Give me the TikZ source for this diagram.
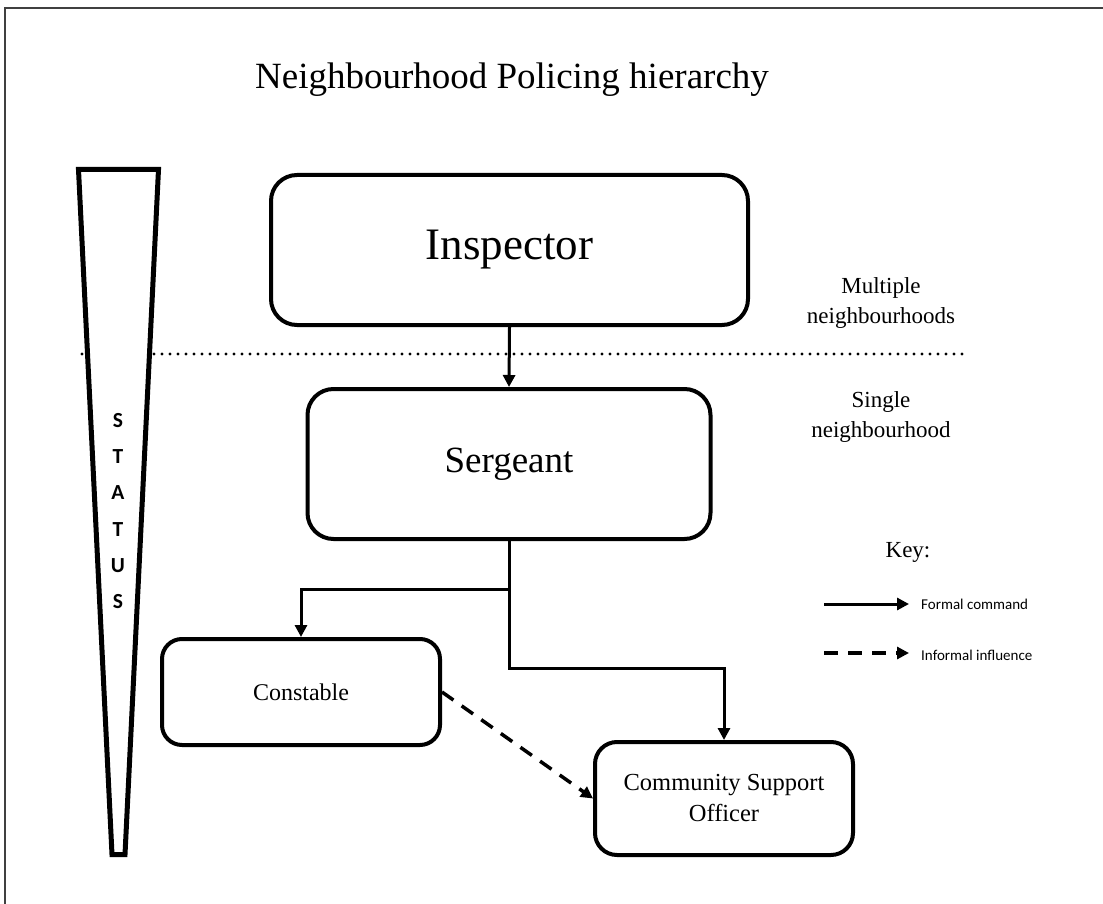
\documentclass[tikz,border=0pt]{standalone}
\usepackage{fontspec}
\setmainfont{Liberation Serif}
\newfontfamily\keyfont{Carlito}
\usetikzlibrary{arrows.meta}
\tikzset{
  box/.style={draw, line width=4pt, fill=white, inner sep=0pt, align=center},
  arr/.style={line width=3pt, -{Triangle[length=12pt,width=12pt]}},
  darr/.style={line width=3.5pt, dash pattern=on 14pt off 10pt, -{Triangle[length=12pt,width=12pt]}},
  lbl/.style={inner sep=0pt, align=center, font=\fontsize{23}{30}\selectfont},
  legend/.style={inner sep=0pt, anchor=west, font=\keyfont\fontsize{15}{18}\selectfont},
}
\begin{document}
\begin{tikzpicture}[x=1pt,y=-1pt]
\useasboundingbox (0,0) rectangle (1103,904);
% frame
\draw[line width=1.8pt, black!75] (5,904) -- (5,8) -- (1103,8);
% title
\node[inner sep=0pt, anchor=base, font=\fontsize{37}{44}\selectfont] (title) at (512,89) {Neighbourhood Policing hierarchy};
% dotted divider
\coordinate (d1) at (82,354);
\coordinate (d2) at (963,354);
\draw[line width=3.4pt, line cap=round, dash pattern=on 0pt off 8pt] (d1) -- (d2);
% status wedge
\draw[line width=5pt, fill=white, line join=miter] (78.5,169.5) -- (158.5,169.5) -- (125,854.5) -- (112,854.5) -- cycle;
\node[inner sep=0pt, align=center, font=\keyfont\bfseries\fontsize{21.5}{36.2}\selectfont] (status) at (118,511) {S\\T\\A\\T\\U\\S};
% boxes
\node[box, rounded corners=26pt, minimum width=477pt, minimum height=150pt, font=\fontsize{45}{52}\selectfont] (insp) at (509.5,250) {\raisebox{-3pt}{Inspector}};
\node[box, rounded corners=26pt, minimum width=403pt, minimum height=150pt, font=\fontsize{37}{44}\selectfont] (serg) at (509,464) {\raisebox{-3pt}{Sergeant}};
\node[box, rounded corners=20pt, minimum width=278pt, minimum height=106pt, font=\fontsize{24}{31}\selectfont] (const) at (301,692) {Constable};
\node[box, rounded corners=22pt, minimum width=258pt, minimum height=113pt, font=\fontsize{24.5}{31}\selectfont] (cso) at (724,798.5) {Community Support\\Officer};
% side labels
\node[lbl] (multi) at (881,303) {Multiple\\neighbourhoods};
\node[lbl] (single) at (881,417) {Single\\neighbourhood};
% connectors
\draw[arr] (insp.south) -- (serg.north);
\draw[arr] (serg.south) -- ++(0,48) -| (const.north);
\draw[arr] (serg.south) -- ++(0,127) -| (cso.north);
\draw[darr] (const.east) -- (cso.west);
% key
\node[inner sep=0pt, anchor=base, font=\fontsize{23}{30}\selectfont] (key) at (908,557) {Key:};
\coordinate (f1) at (824,604);
\coordinate (f2) at (909,604);
\draw[arr] (f1) -- (f2);
\node[legend] (ftxt) at (921,604) {Formal command};
\coordinate (i1) at (824,653);
\coordinate (i2) at (909,653);
\draw[darr] (i1) -- (i2);
\node[legend] (itxt) at (921,655) {Informal influence};
\end{tikzpicture}
\end{document}
